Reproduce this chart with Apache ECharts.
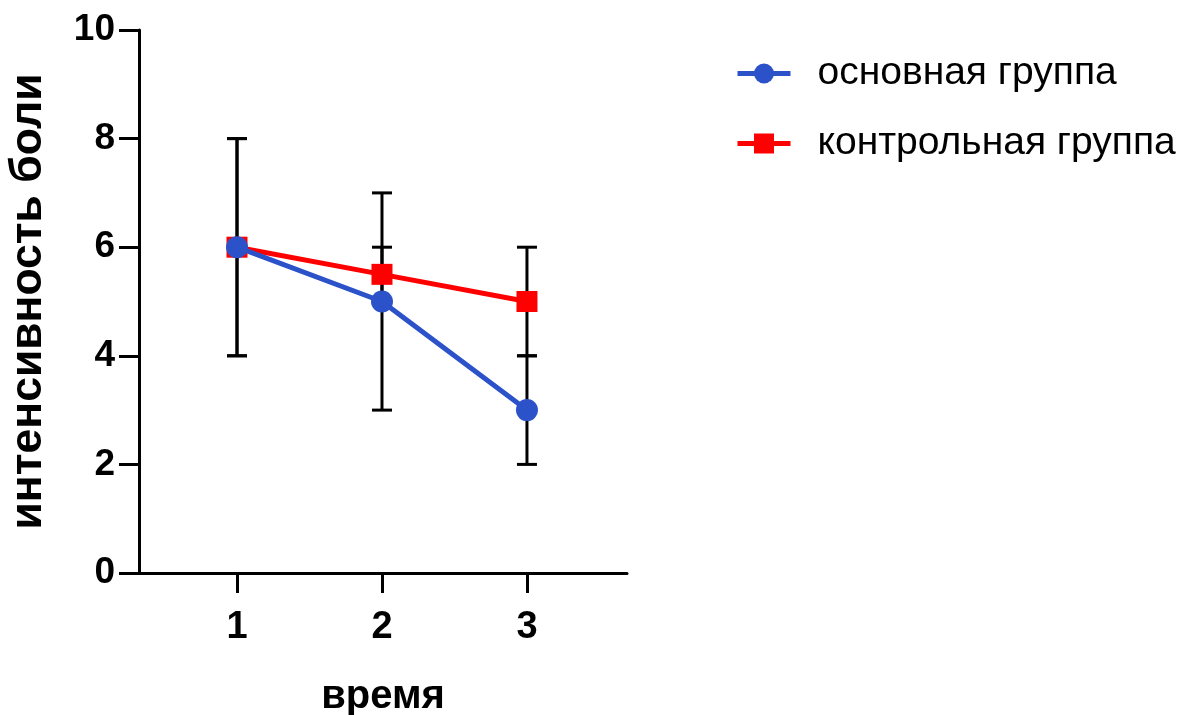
<!DOCTYPE html>
<html>
<head>
<meta charset="utf-8">
<script src="https://cdn.jsdelivr.net/npm/echarts@6/dist/echarts.min.js"></script>
<style>html,body{margin:0;padding:0;background:#fff}#c{width:1182px;height:715px}</style>
</head>
<body>
<div id="c"></div>
<script>
const times = [1, 2, 3];
const yTicks = [0, 2, 4, 6, 8, 10];
const mainName = 'основная группа';
const ctrlName = 'контрольная группа';
const mainMean = [6, 5, 3];
const mainSd = [2, 2, 1];
const ctrlMean = [6, 5.5, 5];
const ctrlSd = [2, 0.5, 1];
const xTitle = 'время';
const yTitle = 'интенсивность боли';

const BLUE = '#2b52c9';
const RED = '#ff0000';

function errData(mean, sd) {
  return times.map((t, i) => [t, mean[i] - sd[i], mean[i] + sd[i]]);
}
function renderErr(params, api) {
  const x = api.value(0);
  const lo = api.coord([x, api.value(1)]);
  const hi = api.coord([x, api.value(2)]);
  const w = 10;
  const st = { stroke: '#000', lineWidth: 3 };
  return {
    type: 'group',
    children: [
      { type: 'line', shape: { x1: lo[0], y1: lo[1], x2: hi[0], y2: hi[1] }, style: st },
      { type: 'line', shape: { x1: lo[0] - w, y1: lo[1], x2: lo[0] + w, y2: lo[1] }, style: st },
      { type: 'line', shape: { x1: hi[0] - w, y1: hi[1], x2: hi[0] + w, y2: hi[1] }, style: st }
    ]
  };
}

const chart = echarts.init(document.getElementById('c'));
chart.setOption({
  animation: false,
  backgroundColor: '#fff',
  textStyle: { fontFamily: 'Liberation Sans, Arial, sans-serif' },
  grid: { left: 139, right: 555, top: 30, bottom: 142, containLabel: false, outerBoundsMode: 'none' },
  legend: {
    orient: 'vertical',
    left: 735,
    top: 54,
    padding: 0,
    itemWidth: 53,
    itemHeight: 25,
    itemGap: 31,
    data: [mainName, ctrlName],
    lineStyle: { width: 5 },
    textStyle: { fontSize: 39, color: '#000', padding: [0, 0, 0, 22] }
  },
  xAxis: {
    type: 'value',
    min: 0.324,
    max: 3.69,
    name: xTitle,
    nameLocation: 'middle',
    nameGap: 104,
    nameTextStyle: { fontSize: 40, fontWeight: 'bold', color: '#000' },
    splitLine: { show: false },
    axisLine: { show: true, onZero: false, lineStyle: { color: '#000', width: 3 } },
    axisTick: { show: true, length: 20, customValues: times, lineStyle: { color: '#000', width: 3 } },
    axisLabel: { customValues: times, fontSize: 38, fontWeight: 'bold', color: '#000', margin: 36 }
  },
  yAxis: {
    type: 'value',
    min: 0,
    max: 10,
    interval: 2,
    name: yTitle,
    nameLocation: 'middle',
    nameGap: 88,
    nameTextStyle: { fontSize: 44.5, fontWeight: 'bold', color: '#000' },
    splitLine: { show: false },
    axisLine: { show: true, lineStyle: { color: '#000', width: 3 } },
    axisTick: { show: true, length: 20, lineStyle: { color: '#000', width: 3 } },
    axisLabel: { fontSize: 37, fontWeight: 'bold', color: '#000', margin: 24,
      formatter: v => yTicks.includes(v) ? String(v) : '' }
  },
  series: [
    {
      type: 'custom', name: 'err-main', renderItem: renderErr, data: errData(mainMean, mainSd),
      clip: false, z: 1, silent: true, encode: { x: 0, y: [1, 2] }
    },
    {
      type: 'custom', name: 'err-ctrl', renderItem: renderErr, data: errData(ctrlMean, ctrlSd),
      clip: false, z: 1, silent: true, encode: { x: 0, y: [1, 2] }
    },
    {
      type: 'line', name: ctrlName, z: 3,
      data: times.map((t, i) => [t, ctrlMean[i]]),
      symbol: 'rect', symbolSize: 21,
      itemStyle: { color: RED },
      lineStyle: { color: RED, width: 5 }
    },
    {
      type: 'line', name: mainName, z: 4,
      data: times.map((t, i) => [t, mainMean[i]]),
      symbol: 'circle', symbolSize: 22,
      itemStyle: { color: BLUE },
      lineStyle: { color: BLUE, width: 5 }
    }
  ]
});
</script>
</body>
</html>
